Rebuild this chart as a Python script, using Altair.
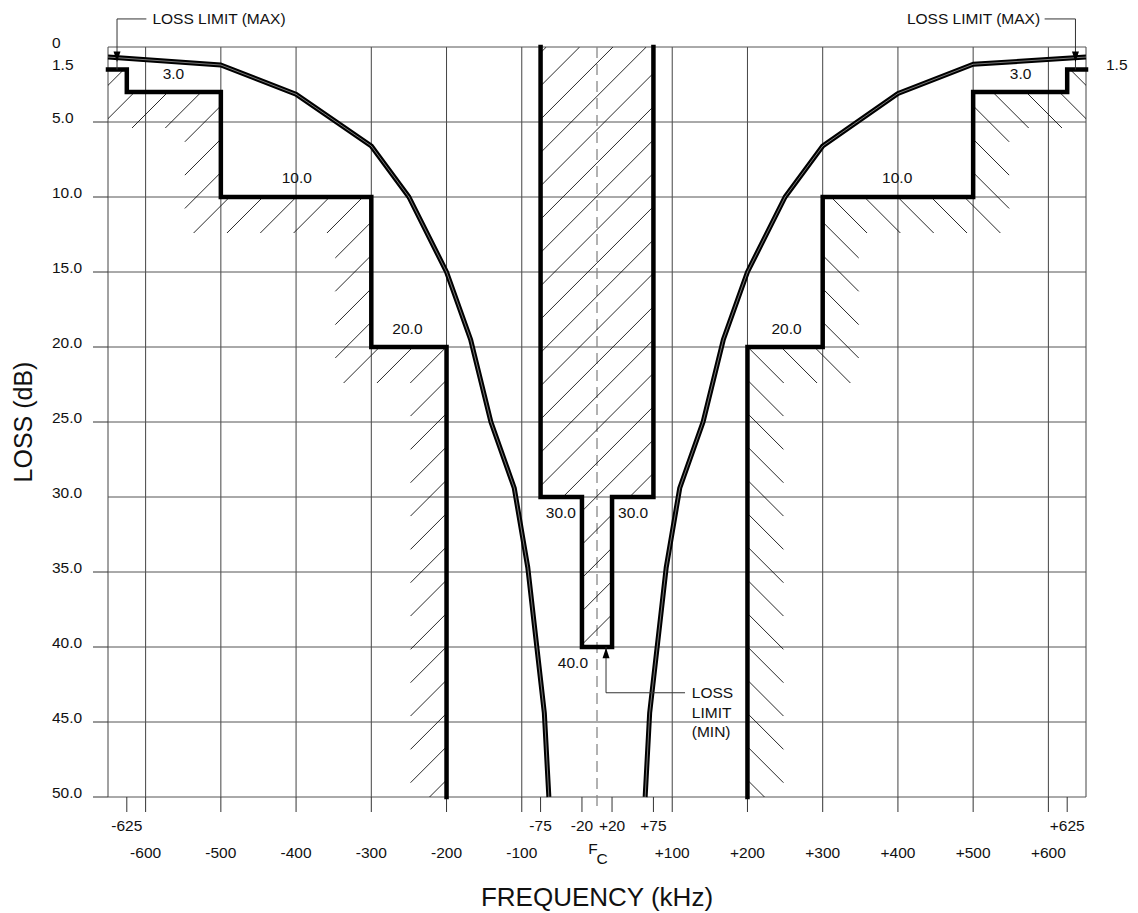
import math
import altair as alt
import pandas as pd

# ---------------- data ----------------
mask_left_khz = [-650, -625, -625, -500, -500, -300, -300, -200, -200]
mask_left_db = [1.5, 1.5, 3.0, 3.0, 10.0, 10.0, 20.0, 20.0, 50.0]
mask_right_khz = [200, 200, 300, 300, 500, 500, 625, 625, 650]
mask_right_db = [50.0, 20.0, 20.0, 10.0, 10.0, 3.0, 3.0, 1.5, 1.5]
center_khz = [-75, -75, -20, -20, 20, 20, 75, 75]
center_db = [0, 30, 30, 40, 40, 30, 30, 0]

curve_left_khz = [-650, -500, -400, -300, -250, -200, -168, -141, -110, -92, -70, -64]
curve_left_db = [0.67, 1.2, 3.15, 6.6, 10.0, 15.0, 19.5, 25.0, 29.4, 34.7, 44.4, 50.0]
curve_right_khz = [64, 70, 92, 110, 141, 168, 200, 250, 300, 400, 500, 650]
curve_right_db = [50.0, 44.4, 34.7, 29.4, 25.0, 19.5, 15.0, 10.0, 6.6, 3.1, 1.15, 0.67]

grid_khz = [-650, -600, -500, -400, -300, -200, -100, 100, 200, 300, 400, 500, 600, 650]
grid_db = [0, 5, 10, 15, 20, 25, 30, 35, 40, 45, 50]
xtick_khz = [-625, -600, -500, -400, -300, -200, -100, -75, -20, 20, 75,
             100, 200, 300, 400, 500, 600, 625]
ytick_db = [5, 10, 15, 20, 25, 35, 40, 45, 50]

ylabel_db = [0, 1.5, 5, 10, 15, 20, 25, 30, 35, 40, 45, 50]
ylabel_txt = ["0", "1.5", "5.0", "10.0", "15.0", "20.0", "25.0", "30.0",
              "35.0", "40.0", "45.0", "50.0"]
xrow1_khz = [-625, -75, -20, 20, 75, 625]
xrow1_txt = ["-625", "-75", "-20", "+20", "+75", "+625"]
xrow2_khz = [-600, -500, -400, -300, -200, -100, 100, 200, 300, 400, 500, 600]
xrow2_txt = ["-600", "-500", "-400", "-300", "-200", "-100",
             "+100", "+200", "+300", "+400", "+500", "+600"]

level_khz = [-563, -399, -252, -48, 48, -32, 252, 399, 563]
level_db = [1.8, 8.73, 18.82, 31.05, 31.05, 41.05, 18.82, 8.73, 1.8]
level_txt = ["3.0", "10.0", "20.0", "30.0", "30.0", "40.0", "20.0", "10.0", "3.0"]

# annotation leaders (kHz, dB)
leader_x = [-638, -638, 595, 636, 12, 12]
leader_y = [-1.87, -1.87, -1.87, -1.87, 40.0, 43.05]
leader_x2 = [-599, -638, 636, 636, 12, 117]
leader_y2 = [-1.87, 1.5, -1.87, 1.5, 43.05, 43.05]
arrow_down_khz = [-638, 636]
arrow_down_db = [1.0, 1.0]
arrow_up_khz = [12]
arrow_up_db = [40.05]
min_label_txt = ["LOSS", "LIMIT", "(MIN)"]
min_label_db = [43.07, 44.38, 45.65]

# ---------------- geometry helpers ----------------
W, H = 978, 750
XMIN, XMAX = -650, 650
KX = W / (XMAX - XMIN)
KY = H / 50.0
SPACING = 33.33   # hatch spacing, px
HLEN = 36.0       # edge-hatch stroke length, px
C0 = 5.0


def to_px(x, db):
    return (x - XMIN) * KX, db * KY


def to_data(X, Y):
    return X / KX + XMIN, Y / KY


def edge_hatch(xs, ys, mirror=False):
    segs = []
    for i in range(len(xs) - 1):
        X1, Y1 = to_px(xs[i], ys[i])
        X2, Y2 = to_px(xs[i + 1], ys[i + 1])
        ca, cb = X1 + Y1, X2 + Y2
        k = math.ceil((ca - C0) / SPACING)
        c = C0 + k * SPACING
        while c < cb:
            if abs(Y1 - Y2) < 1e-9:
                X, Y = c - Y1, Y1
            else:
                X, Y = X1, c - X1
            a = to_data(X, Y)
            b = to_data(X - HLEN, Y + HLEN)
            segs.append(a + b)
            c += SPACING
    if mirror:
        segs = [(-a, b, -c_, d) for (a, b, c_, d) in segs]
    return segs


def fill_hatch(rects):
    segs = []
    for (xa, xb, ya, yb) in rects:
        Xa, Ya = to_px(xa, ya)
        Xb, Yb = to_px(xb, yb)
        k = math.ceil((Xa + Ya - C0) / SPACING)
        c = C0 + k * SPACING
        while c < Xb + Yb:
            lo = max(Xa, c - Yb)
            hi = min(Xb, c - Ya)
            if hi > lo:
                segs.append(to_data(lo, c - lo) + to_data(hi, c - hi))
            c += SPACING
    return segs


hatch = edge_hatch(mask_left_khz, mask_left_db)
hatch += edge_hatch([-x for x in mask_right_khz[::-1]], mask_right_db[::-1], mirror=True)
hatch += fill_hatch([(-75, 75, 0, 30), (-20, 20, 30, 40)])
hatch_df = pd.DataFrame(hatch, columns=["x", "y", "x2", "y2"])

# ---------------- tables ----------------
def seq(name, xs, ys):
    return pd.DataFrame({"x": xs, "y": ys, "i": range(len(xs)), "g": name})


mask_df = pd.concat([seq("L", mask_left_khz, mask_left_db),
                     seq("R", mask_right_khz, mask_right_db),
                     seq("C", center_khz, center_db)])
curve_df = pd.concat([seq("L", curve_left_khz, curve_left_db),
                      seq("R", curve_right_khz, curve_right_db)])

xs = alt.Scale(domain=[XMIN, XMAX], nice=False, zero=False)
ys = alt.Scale(domain=[0, 50], reverse=True, nice=False, zero=False)
FONT = "Liberation Sans"
INK = "#111111"
FS = 15.5


def X(f="x"):
    return alt.X(f"{f}:Q", scale=xs, axis=None)


def Y(f="y"):
    return alt.Y(f"{f}:Q", scale=ys, axis=None)


grid_v = alt.Chart(pd.DataFrame({"x": grid_khz})).mark_rule(
    color="#444444", strokeWidth=1).encode(x=X(), y=alt.value(0), y2=alt.value(H))
grid_h = alt.Chart(pd.DataFrame({"y": grid_db})).mark_rule(
    color="#555555", strokeWidth=1).encode(y=Y(), x=alt.value(0), x2=alt.value(W))
xticks = alt.Chart(pd.DataFrame({"x": xtick_khz})).mark_rule(
    color="#333333", strokeWidth=1).encode(x=X(), y=alt.value(H), y2=alt.value(H + 15))
yticks = alt.Chart(pd.DataFrame({"y": ytick_db})).mark_rule(
    color="#333333", strokeWidth=1).encode(y=Y(), x=alt.value(-15), x2=alt.value(0))
fc_line = alt.Chart(pd.DataFrame({"x": [0], "y": [0], "y2": [51]})).mark_rule(
    color="#888888", strokeWidth=1.3, strokeDash=[11, 6]).encode(
    x=X(), y=Y(), y2="y2:Q")

hatch_layer = alt.Chart(hatch_df).mark_rule(
    color=INK, strokeWidth=0.9, clip=True).encode(
    x=X(), y=Y(), x2="x2:Q", y2="y2:Q")

mask_layer = alt.Chart(mask_df).mark_line(
    color="black", strokeWidth=4.5, strokeJoin="miter", strokeCap="square").encode(
    x=X(), y=Y(), order=alt.Order("i:Q"), detail="g:N")

curve_outer = alt.Chart(curve_df).mark_line(
    color="black", strokeWidth=5, strokeJoin="round").encode(
    x=X(), y=Y(), order=alt.Order("i:Q"), detail="g:N")
curve_inner = alt.Chart(curve_df).mark_line(
    color="white", strokeWidth=0.8, opacity=0.6, strokeJoin="round").encode(
    x=X(), y=Y(), order=alt.Order("i:Q"), detail="g:N")

ylabels = alt.Chart(pd.DataFrame({"y": ylabel_db, "t": ylabel_txt})).mark_text(
    align="left", baseline="middle", dy=-4.5, font=FONT, fontSize=FS, color=INK).encode(
    x=alt.value(-56), y=Y(), text="t:N")
ylabel_r = alt.Chart(pd.DataFrame({"y": [1.5], "t": ["1.5"]})).mark_text(
    align="left", baseline="middle", dy=-4.5, font=FONT, fontSize=FS, color=INK).encode(
    x=alt.value(W + 20), y=Y(), text="t:N")
xrow1 = alt.Chart(pd.DataFrame({"x": xrow1_khz, "t": xrow1_txt})).mark_text(
    align="center", baseline="middle", font=FONT, fontSize=FS, color=INK).encode(
    x=X(), y=alt.value(H + 29), text="t:N")
xrow2 = alt.Chart(pd.DataFrame({"x": xrow2_khz, "t": xrow2_txt})).mark_text(
    align="center", baseline="middle", font=FONT, fontSize=FS, color=INK).encode(
    x=X(), y=alt.value(H + 56), text="t:N")
fc_f = alt.Chart(pd.DataFrame({"x": [0], "t": ["F"]})).mark_text(
    align="center", baseline="middle", font=FONT, fontSize=FS, color=INK, dx=-4).encode(
    x=X(), y=alt.value(H + 52), text="t:N")
fc_c = alt.Chart(pd.DataFrame({"x": [0], "t": ["C"]})).mark_text(
    align="center", baseline="middle", font=FONT, fontSize=FS, color=INK, dx=5).encode(
    x=X(), y=alt.value(H + 62), text="t:N")

xtitle = alt.Chart(pd.DataFrame({"x": [0], "t": ["FREQUENCY (kHz)"]})).mark_text(
    align="center", baseline="middle", font=FONT, fontSize=26, color=INK).encode(
    x=X(), y=alt.value(H + 101), text="t:N")
ytitle = alt.Chart(pd.DataFrame({"t": ["LOSS (dB)"]})).mark_text(
    align="center", baseline="middle", font=FONT, fontSize=25, color=INK, angle=270).encode(
    x=alt.value(-84), y=alt.value(H / 2), text="t:N")

levels = alt.Chart(pd.DataFrame({"x": level_khz, "y": level_db, "t": level_txt})).mark_text(
    align="center", baseline="middle", font=FONT, fontSize=FS, color=INK).encode(
    x=X(), y=Y(), text="t:N")

leaders = alt.Chart(pd.DataFrame({"x": leader_x, "y": leader_y,
                                  "x2": leader_x2, "y2": leader_y2})).mark_rule(
    color="#333333", strokeWidth=1).encode(x=X(), y=Y(), x2="x2:Q", y2="y2:Q")
arrows_down = alt.Chart(pd.DataFrame({"x": arrow_down_khz, "y": arrow_down_db})).mark_point(
    shape="M-1,-3L1,-3L0,0Z", filled=True, size=49, color="black", opacity=1).encode(
    x=X(), y=Y())
arrows_up = alt.Chart(pd.DataFrame({"x": arrow_up_khz, "y": arrow_up_db})).mark_point(
    shape="M-1,3L1,3L0,0Z", filled=True, size=49, color="black", opacity=1).encode(
    x=X(), y=Y())
max_left = alt.Chart(pd.DataFrame({"x": [-591], "y": [-1.87], "t": ["LOSS LIMIT (MAX)"]})).mark_text(
    align="left", baseline="middle", font=FONT, fontSize=FS, color=INK).encode(
    x=X(), y=Y(), text="t:N")
max_right = alt.Chart(pd.DataFrame({"x": [589], "y": [-1.87], "t": ["LOSS LIMIT (MAX)"]})).mark_text(
    align="right", baseline="middle", font=FONT, fontSize=FS, color=INK).encode(
    x=X(), y=Y(), text="t:N")
min_label = alt.Chart(pd.DataFrame({"x": [126] * 3, "y": min_label_db, "t": min_label_txt})).mark_text(
    align="left", baseline="middle", font=FONT, fontSize=FS, color=INK).encode(
    x=X(), y=Y(), text="t:N")

chart = alt.layer(
    grid_v, grid_h, xticks, yticks, fc_line, hatch_layer, mask_layer,
    curve_outer, curve_inner, leaders, arrows_down, arrows_up,
    ylabels, ylabel_r, xrow1, xrow2, fc_f, fc_c, xtitle, ytitle,
    levels, max_left, max_right, min_label,
).properties(
    width=W, height=H,
    autosize=alt.AutoSizeParams(type="none"),
    padding={"left": 100, "top": 39, "right": 44, "bottom": 116},
    background="white",
).configure_view(stroke=None)

chart.save("out.html", embed_options={"renderer": "svg", "actions": False})
